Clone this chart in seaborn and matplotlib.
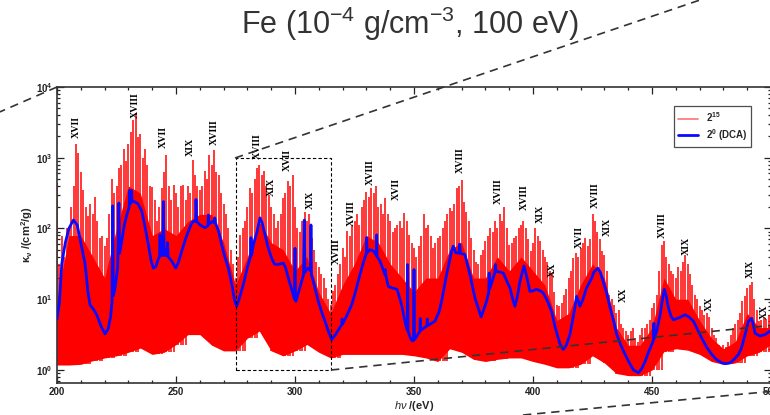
import numpy as np
import pandas as pd
import matplotlib
matplotlib.use('Agg')
import matplotlib.pyplot as plt
import seaborn as sns
from matplotlib.lines import Line2D
from matplotlib.patches import Rectangle
from matplotlib.ticker import MultipleLocator, LogLocator, FuncFormatter, NullFormatter

# ---------------- data ----------------
# red spectrum (2^15): spike tops, log10(kappa), one per eV from 200 to 500
red_x = list(range(200, 501))
red_top_log = [
    2.64, 1.5, 1.9, 1.6, 2.0, 2.0, 2.3, 2.6, 3.2, 3.07,
    2.8, 2.55, 2.3, 2.17, 2.35, 2.2, 2.45, 2.1, 1.86, 1.9,
    1.75, 1.86, 2.2, 2.7, 2.5, 2.6, 2.86, 2.9, 3.12, 2.95,
    3.2, 3.37, 3.53, 3.63, 3.3, 3.33, 3.0, 3.12, 2.9, 2.6,
    2.59, 2.4, 2.1, 2.3, 2.57, 2.8, 3.04, 2.6, 2.4, 2.62,
    2.5, 2.3, 2.6, 2.62, 2.4, 2.6, 2.5, 2.97, 2.76, 2.6,
    2.55, 2.6, 2.81, 2.7, 3.04, 2.9, 3.11, 2.8, 2.76, 2.5,
    2.34, 2.2, 2.0, 1.7, 1.5, 1.3, 1.6, 1.91, 2.0, 2.1,
    2.3, 2.57, 2.5, 2.7, 2.86, 2.9, 2.75, 2.81, 2.6, 2.48,
    2.3, 2.2, 2.0, 2.1, 2.2, 2.43, 2.5, 2.67, 2.6, 2.76,
    2.3, 2.0, 1.95, 2.1, 2.24, 2.1, 2.2, 1.87, 1.7, 1.53,
    1.45, 1.35, 1.3, 1.16, 1.0, 0.92, 1.11, 1.2, 1.35, 1.5,
    1.73, 1.6, 1.96, 1.9, 2.05, 2.1, 2.2, 2.05, 2.3, 2.4,
    2.52, 2.45, 2.57, 2.5, 2.6, 2.3, 2.34, 2.2, 2.43, 2.2,
    2.1, 1.95, 2.0, 2.05, 2.1, 2.0, 2.22, 2.1, 1.91, 1.8,
    1.73, 1.6, 1.75, 1.9, 2.2, 2.0, 2.05, 1.9, 1.73, 1.8,
    1.87, 1.9, 2.0, 2.1, 2.2, 2.29, 2.25, 2.34, 2.57, 2.6,
    2.69, 2.38, 2.24, 2.1, 1.87, 1.7, 1.53, 1.5, 1.63, 1.7,
    1.82, 1.9, 2.0, 1.95, 2.1, 2.0, 2.2, 2.1, 2.31, 2.0,
    1.77, 1.8, 1.87, 1.9, 2.0, 2.05, 2.1, 2.0, 1.85, 1.68,
    1.8, 2.0, 1.9, 1.82, 1.7, 1.6, 1.53, 1.4, 1.35, 1.1,
    0.92, 0.9, 0.95, 1.06, 1.15, 1.3, 1.4, 1.58, 1.65, 1.6,
    1.73, 1.8, 1.87, 1.75, 1.85, 2.2, 2.1, 1.95, 1.85, 1.68,
    1.62, 1.4, 1.06, 1.0, 0.92, 0.8, 0.85, 0.65, 0.59, 0.55,
    0.5, 0.55, 0.6, 0.45, 0.4, 0.5, 0.59, 0.6, 0.65, 0.7,
    0.88, 0.95, 1.06, 1.4, 1.77, 1.82, 1.6, 1.5, 1.4, 1.35,
    1.3, 1.45, 1.4, 1.53, 1.63, 1.5, 1.35, 1.2, 1.06, 1.0,
    0.9, 0.85, 0.78, 0.8, 0.75, 0.6, 0.5, 0.45, 0.36, 0.3,
    0.35, 0.32, 0.4, 0.5, 0.59, 0.65, 0.7, 0.8, 0.97, 1.05,
    1.16, 1.2, 1.25, 1.0, 0.85, 0.69, 0.7, 0.75, 0.72, 0.78,
    0.8,
]
# lower edge and dense-core top of the red band, every 5 eV (log10)
band_x = list(range(200, 501, 5))
floor_log = [
    0.07, 0.07, 0.08, 0.13, 0.17, 0.2, 0.25, 0.31, 0.22, 0.25,
    0.36, 0.5, 0.5, 0.35, 0.27, 0.27, 0.45, 0.55, 0.27, 0.2,
    0.27, 0.36, 0.25, 0.17, 0.22, 0.22, 0.22, 0.22, 0.22, 0.22,
    0.2, 0.17, 0.12, 0.3, 0.25, 0.15, 0.12, 0.15, 0.17, 0.17,
    0.12, 0.08, 0.03, 0.03, 0.08, 0.2, 0.1, -0.05, -0.08, -0.08,
    0.0, 0.26, 0.3, 0.28, 0.22, 0.12, 0.08, 0.1, 0.2, 0.25,
    0.36,
]
core_log = [
    1.0, 1.9, 1.9, 1.6, 1.3, 2.0, 2.6, 2.5, 1.9, 2.0,
    1.9, 2.1, 2.2, 2.2, 1.8, 1.2, 1.6, 2.1, 1.8, 1.7,
    1.4, 1.6, 1.1, 0.8, 1.2, 1.5, 1.9, 1.8, 1.5, 1.3,
    1.1, 1.3, 1.3, 1.7, 1.8, 1.3, 1.3, 1.6, 1.4, 1.6,
    1.4, 1.2, 0.7, 0.8, 1.2, 1.5, 1.3, 0.6, 0.35, 0.35,
    0.6, 1.3, 1.0, 1.0, 0.7, 0.45, 0.3, 0.4, 0.8, 0.6,
    0.6,
]

# blue DCA curve (2^0), log10(kappa)
blue_x = [
    200.0, 201.0, 202.0, 203.5, 205.0, 206.9, 208.5, 210.0, 211.8, 213.0,
    213.9, 215.5, 216.7, 218.5, 220.2, 221.5, 222.5, 223.1, 223.4, 223.7,
    224.4, 225.5, 226.0, 226.3, 227.2, 228.3, 229.3, 230.3, 230.6, 230.9,
    231.3, 231.6, 232.5, 234.0, 235.6, 237.0, 238.4, 239.5, 240.5, 241.5,
    242.7, 243.1, 243.3, 243.5, 244.4, 244.7, 245.0, 246.0, 246.4, 246.7,
    248.2, 249.9, 251.0, 252.4, 254.0, 255.2, 256.5, 257.3, 258.2, 258.4,
    258.7, 260.1, 262.2, 263.4, 263.6, 263.8, 265.3, 266.1, 266.3, 266.6,
    268.0, 269.2, 270.5, 272.0, 273.5, 274.5, 275.5, 276.5, 278.3, 280.0,
    281.3, 281.5, 281.7, 282.5, 284.0, 285.3, 286.2, 287.4, 288.8, 290.2,
    291.3, 292.3, 294.0, 295.1, 296.0, 297.2, 298.5, 299.8, 300.0, 300.2,
    300.4, 301.5, 302.8, 303.6, 303.9, 304.2, 304.9, 305.6, 306.5, 306.7,
    306.9, 307.7, 308.8, 309.8, 311.2, 312.6, 314.0, 315.4, 317.0, 318.5,
    319.6, 319.8, 320.0, 321.5, 323.8, 325.2, 327.3, 329.0, 330.0, 330.1,
    330.3, 331.5, 333.0, 334.2, 334.3, 334.5, 335.7, 337.8, 338.0, 338.2,
    339.2, 340.8, 342.9, 344.8, 346.0, 346.9, 347.2, 347.3, 347.5, 348.5,
    349.3, 349.8, 350.0, 350.2, 351.2, 352.5, 352.6, 352.8, 355.3, 355.6,
    355.9, 358.8, 360.5, 361.6, 363.7, 365.8, 366.5, 367.5, 369.0, 369.2,
    369.5, 371.4, 373.5, 375.6, 378.2, 380.5, 381.4, 381.6, 381.8, 382.5,
    384.0, 384.2, 384.5, 385.5, 387.5, 390.3, 391.5, 392.4, 393.5, 394.5,
    396.2, 397.5, 398.7, 400.0, 401.5, 403.0, 404.3, 406.0, 407.8, 409.2,
    410.6, 411.5, 412.7, 414.0, 415.5, 416.6, 417.6, 418.3, 419.0, 419.7,
    421.0, 422.5, 424.7, 425.5, 427.2, 428.3, 429.5, 431.0, 432.4, 433.8,
    435.2, 436.9, 438.7, 440.5, 442.2, 444.3, 445.7, 447.1, 448.5, 449.9,
    450.6, 450.8, 451.0, 452.0, 453.4, 454.5, 455.2, 456.0, 456.9, 458.0,
    459.0, 461.5, 463.9, 465.5, 467.4, 469.0, 470.9, 473.0, 475.1, 477.0,
    479.3, 481.0, 482.8, 484.5, 486.3, 487.5, 488.4, 489.5, 490.5, 491.9,
    492.7, 493.3, 495.4, 497.5, 499.6,
]
blue_log = [
    0.72, 0.95, 1.5, 1.8, 2.0, 2.12, 2.05, 1.8, 1.5, 1.1,
    0.92, 0.85, 0.78, 0.62, 0.51, 0.58, 0.75, 0.95, 2.32, 1.05,
    1.16, 1.45, 2.36, 1.65, 1.82, 2.05, 2.19, 2.3, 2.54, 2.35,
    2.54, 2.38, 2.38, 2.35, 2.25, 2.02, 1.77, 1.55, 1.44, 1.46,
    1.58, 1.6, 1.91, 1.62, 1.62, 2.38, 1.62, 1.62, 1.80, 1.6,
    1.54, 1.44, 1.52, 1.68, 1.85, 1.96, 2.07, 2.1, 2.1, 2.41,
    2.1, 2.05, 2.01, 2.04, 2.19, 2.06, 2.1, 2.08, 2.15, 2.08,
    1.95, 1.77, 1.6, 1.44, 1.2, 1.0, 0.9, 1.0, 1.21, 1.45,
    1.6, 1.87, 1.62, 1.77, 1.95, 2.15, 2.08, 1.91, 1.72, 1.58,
    1.5, 1.49, 1.5, 1.51, 1.45, 1.30, 1.15, 1.0, 1.72, 0.98,
    0.97, 1.1, 1.25, 1.35, 2.12, 1.38, 1.42, 1.44, 1.40, 2.05,
    1.35, 1.25, 1.1, 0.97, 0.82, 0.69, 0.55, 0.43, 0.50, 0.58,
    0.64, 0.72, 0.65, 0.75, 0.92, 1.08, 1.35, 1.55, 1.65, 1.87,
    1.66, 1.70, 1.68, 1.62, 1.91, 1.6, 1.54, 1.35, 1.42, 1.33,
    1.18, 1.16, 1.14, 0.92, 0.72, 0.59, 0.57, 1.49, 0.55, 0.45,
    0.41, 0.42, 1.42, 0.43, 0.48, 0.55, 0.73, 0.56, 0.62, 0.72,
    0.63, 0.69, 0.82, 0.97, 1.35, 1.68, 1.75, 1.66, 1.65, 1.78,
    1.65, 1.63, 1.35, 1.02, 0.75, 0.97, 1.1, 1.37, 1.15, 1.22,
    1.38, 1.49, 1.39, 1.39, 1.37, 1.16, 1.0, 0.90, 1.05, 1.25,
    1.47, 1.3, 1.11, 1.12, 1.14, 1.12, 1.09, 0.98, 0.83, 0.62,
    0.45, 0.35, 0.29, 0.35, 0.50, 0.70, 0.88, 1.04, 0.98, 0.90,
    1.0, 1.16, 1.30, 1.38, 1.44, 1.38, 1.25, 1.08, 0.88, 0.7,
    0.50, 0.35, 0.22, 0.1, 0.00, -0.04, 0.02, 0.12, 0.25, 0.36,
    0.42, 0.66, 0.45, 0.55, 0.78, 1.02, 1.14, 1.04, 0.88, 0.76,
    0.71, 0.74, 0.78, 0.75, 0.69, 0.58, 0.45, 0.32, 0.22, 0.15,
    0.10, 0.09, 0.10, 0.15, 0.22, 0.3, 0.41, 0.55, 0.69, 0.73,
    0.62, 0.52, 0.48, 0.5, 0.55,
]

# ion-stage labels: text, energy (eV), log10 height
ion_text = ["XVII", "XVIII", "XVII", "XIX", "XVIII", "XVIII", "XIX", "XVII", "XIX",
            "XVIII", "XVIII", "XVIII", "XVII", "XVIII", "XVIII", "XVIII", "XIX", "XX",
            "XVII", "XVIII", "XIX", "XX", "XVIII", "XIX", "XX", "XIX", "XX"]
ion_x = [208.3, 232.8, 244.7, 255.9, 266.1, 284.3, 290.2, 296.8, 306.3,
         317.2, 323.8, 331.5, 342.7, 369.5, 385.4, 396.3, 402.9, 408.3,
         419.3, 426.0, 431.4, 438.0, 454.3, 464.6, 474.0, 491.2, 497.2]
ion_y = [3.44, 3.75, 3.29, 3.16, 3.36, 3.16, 2.59, 2.97, 2.40,
         1.68, 2.22, 2.80, 2.56, 2.96, 2.53, 2.45, 2.21, 1.41,
         1.88, 2.47, 2.02, 1.06, 2.05, 1.76, 0.94, 1.43, 0.82]

# zoom box (eV, kappa)
box_x = [275, 315]
box_y = [1.0, 1000.0]

# ---------------- style ----------------
sns.set_style("ticks")
plt.rcParams['font.family'] = ['Liberation Sans', 'DejaVu Sans']
plt.rcParams['mathtext.fontset'] = 'custom'
plt.rcParams['mathtext.rm'] = 'Liberation Sans'
plt.rcParams['mathtext.it'] = 'Liberation Sans:italic'
plt.rcParams['mathtext.bf'] = 'Liberation Sans:bold'

W, H = 770, 415
fig = plt.figure(figsize=(W / 100, H / 100), dpi=100)
ax = fig.add_axes([57 / W, 1 - 383 / H, (771 - 57) / W, (383 - 87) / H])

df_red = pd.DataFrame({'x': red_x, 'top': np.power(10.0, red_top_log)})
fl = np.power(10.0, np.array(floor_log))
co = np.power(10.0, np.array(core_log))
df_red['lo'] = [fl[(v - 200) // 5] for v in red_x]

# red dense band + spikes
ax.fill_between(band_x, fl, co, color='#ff0000', lw=0, zorder=1)
ax.vlines(df_red['x'], df_red['lo'], df_red['top'], color='#ff0000', lw=1.1, zorder=1)

# blue DCA curve
df_blue = pd.DataFrame({'x': blue_x, 'k': np.power(10.0, blue_log)})
sns.lineplot(data=df_blue, x='x', y='k', ax=ax, color='#0a0aff', lw=2.0,
             estimator=None, sort=False, zorder=3, legend=False)

ax.set_yscale('log')
ax.set_xlim(200, 500)
ax.set_ylim(10 ** -0.184, 1e4)

# ion labels
for t, x, y in zip(ion_text, ion_x, ion_y):
    ax.text(x, 10 ** y, t, rotation=90, ha='center', va='center', fontsize=7.2,
            family='Liberation Serif', fontweight='bold', color='black',
            zorder=4, clip_on=False)

# zoom rectangle
ax.add_patch(Rectangle((box_x[0], box_y[0]), box_x[1] - box_x[0], box_y[1] - box_y[0],
                       fill=False, ec='black', lw=0.8, ls=(0, (3, 2)), zorder=5))

# ticks
ax.xaxis.set_major_locator(MultipleLocator(50))
ax.xaxis.set_minor_locator(MultipleLocator(10))
ax.yaxis.set_major_locator(LogLocator(base=10, numticks=10))
ax.yaxis.set_minor_locator(LogLocator(base=10, subs=np.arange(2, 10), numticks=20))
ax.yaxis.set_minor_formatter(NullFormatter())
ax.yaxis.set_major_formatter(FuncFormatter(lambda v, p: r'$\mathbf{10^{%d}}$' % round(np.log10(v))))
ax.tick_params(which='both', direction='in', top=True, right=True, width=0.9, colors='#222222')
ax.tick_params(which='major', length=5, labelsize=7, pad=3)
ax.tick_params(which='minor', length=2.5)
for lab in ax.get_xticklabels():
    lab.set_fontweight('bold')
for s in ax.spines.values():
    s.set_linewidth(1.2)
    s.set_color('#333333')

ax.set_xlabel(r'$\mathit{h\nu}$ $\mathbf{/(eV)}$', fontsize=8, labelpad=1)
ax.set_ylabel(r'$\mathbf{\kappa_{\nu}}$ $\mathbf{/(cm^{2}/g)}$', fontsize=8, labelpad=1)

# legend
handles = [Line2D([], [], color='#ff0000', alpha=0.55, lw=1.2),
           Line2D([], [], color='#0a0aff', lw=2.0)]
leg = ax.legend(handles, [r'$\mathbf{2^{15}}$', r'$\mathbf{2^{0}}$ (DCA)'],
                loc='upper right', bbox_to_anchor=(0.972, 0.935), borderaxespad=0,
                prop={'size': 7, 'weight': 'bold'}, fancybox=False, frameon=True,
                handlelength=2.0, handletextpad=0.8, borderpad=0.4, labelspacing=0.3)
leg.get_frame().set_edgecolor('#222222')
leg.get_frame().set_linewidth(0.9)

# title
fig.text(410 / W, 1 - 24 / H, r'Fe (10$^{-4}$ g/cm$^{-3}$, 100 eV)', ha='center', va='center',
         fontsize=22, color='#333333')

# zoom guide lines (figure pixel coordinates)
def fig_line(p0, p1):
    fig.add_artist(Line2D([p0[0] / W, p1[0] / W], [1 - p0[1] / H, 1 - p1[1] / H],
                          transform=fig.transFigure, color='#333333', lw=1.2,
                          ls=(0, (5, 3.5)), zorder=6))

fig_line((57, 87), (-5, 114))
fig_line((235, 158), (700, 0))
fig_line((331, 370), (775, 325))
fig_line((523, 415), (775, 391))

fig.savefig('out.png', dpi=100)
